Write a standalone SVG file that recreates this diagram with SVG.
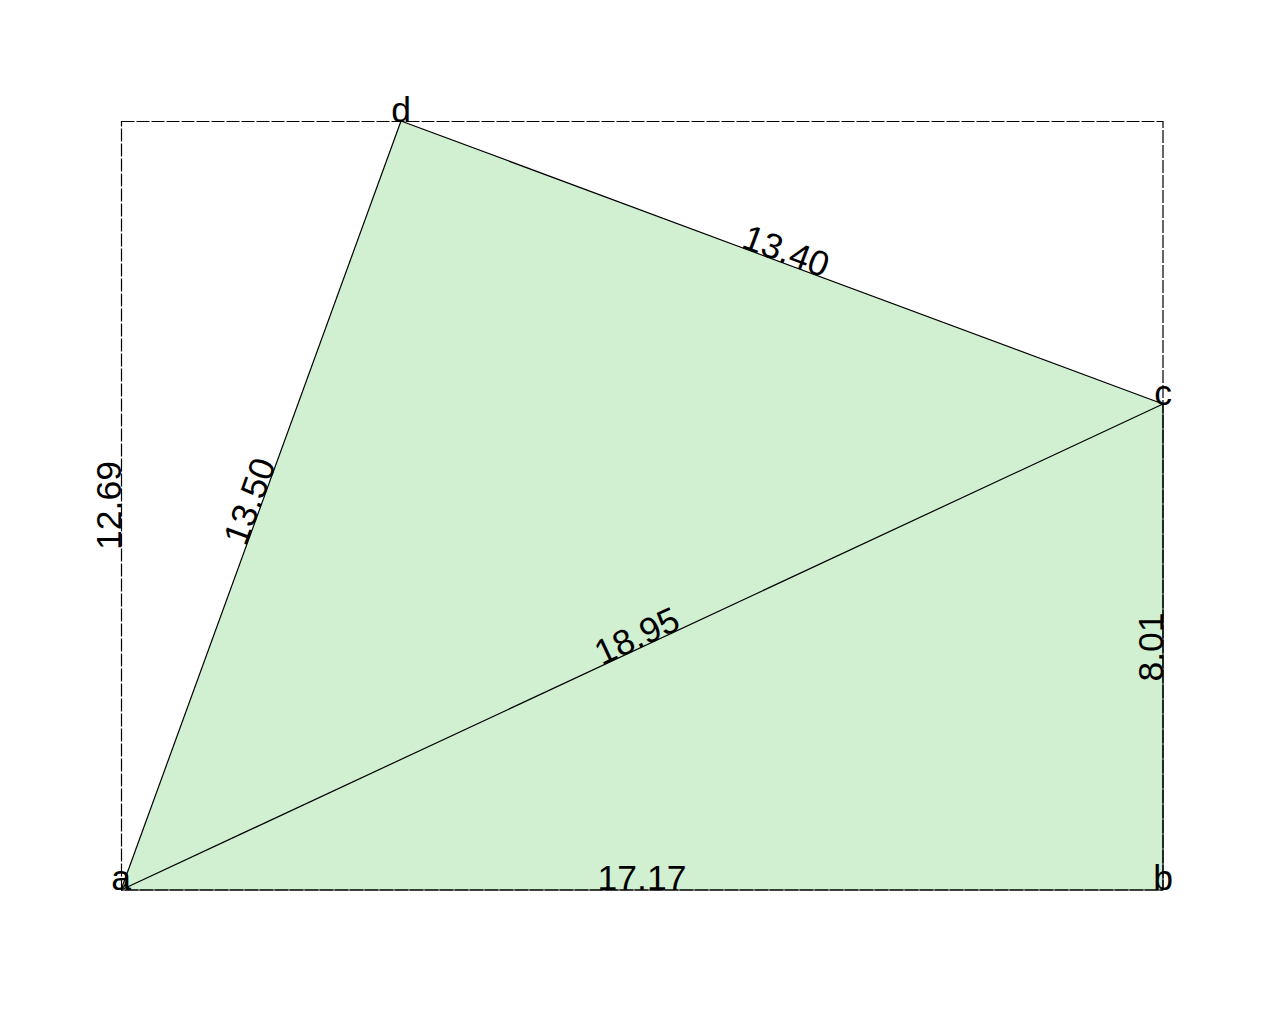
<svg xmlns="http://www.w3.org/2000/svg" width="1285" height="1012" viewBox="0 0 1285 1012">
<style>
.lbl{font-family:"Liberation Sans",Arial,sans-serif;font-size:35.5px;fill:#000;text-anchor:middle}
.edge{fill:none;stroke:#000;stroke-width:1.2}
.box{fill:none;stroke:#000;stroke-width:1.2;stroke-dasharray:13 2}
</style>
<rect width="1285" height="1012" fill="#fff"/>
<g id="shape">
<polygon points="121,890 1163,890 1163,404 401,121" fill="#d1efd1" stroke="none"/>
</g>
<g id="connectors">
<rect class="box" x="121.5" y="121.5" width="1041.5" height="768.5"/>
<line class="edge" x1="121" y1="890" x2="1163" y2="890"/>
<line class="edge" x1="1163" y1="890" x2="1163" y2="404"/>
<line class="edge" x1="1163" y1="404" x2="401" y2="121"/>
<line class="edge" x1="401" y1="121" x2="121" y2="890"/>
<line class="edge" x1="121" y1="890" x2="1163" y2="404"/>
</g>
<g id="node-a"><text class="lbl" x="121" y="890">a</text></g>
<g id="node-b"><text class="lbl" x="1163" y="890">b</text></g>
<g id="node-c"><text class="lbl" x="1163" y="405">c</text></g>
<g id="node-d"><text class="lbl" x="401" y="122">d</text></g>
<g id="edge-labels">
<text class="lbl" x="642" y="890">17.17</text>
<text class="lbl" transform="translate(1163 647) rotate(-90)" x="0" y="0">8.01</text>
<text class="lbl" transform="translate(782 262.5) rotate(20.4)" x="0" y="0">13.40</text>
<text class="lbl" transform="translate(261 505.5) rotate(-70)" x="0" y="0">13.50</text>
<text class="lbl" transform="translate(642 647) rotate(-25)" x="0" y="0">18.95</text>
<text class="lbl" transform="translate(121 505.5) rotate(-90)" x="0" y="0">12.69</text>
</g>
</svg>
